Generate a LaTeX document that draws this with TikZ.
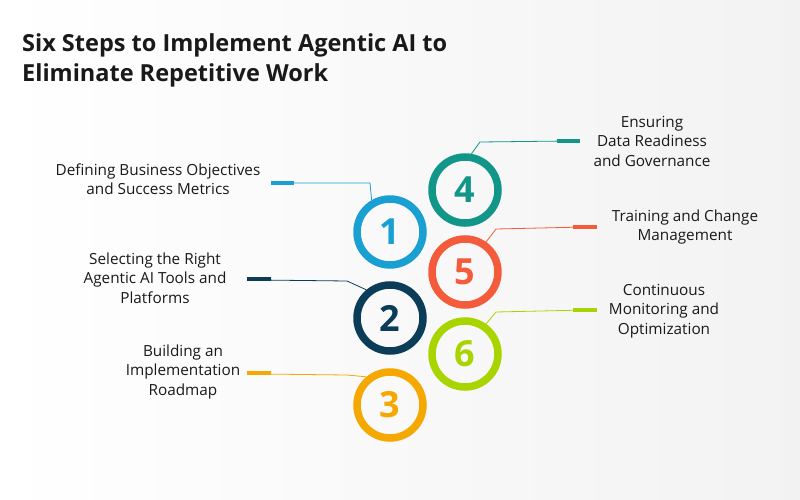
\documentclass[tikz,border=0pt]{standalone}
\usepackage{fontspec}
\setmainfont{Open Sans}
\begin{document}
\begin{tikzpicture}[x=1pt,y=-1pt,
 ring/.style={circle,draw=#1,line width=7.5pt,minimum size=66pt,inner sep=0pt,text=#1,font=\fontsize{36}{36}\selectfont},
 lead/.style={draw=#1,line width=0.8pt},
 bar/.style={draw=#1,line width=3.5pt},
 lbl/.style={align=center,font=\fontsize{15.3}{19.5}\selectfont,text=black!90,inner sep=0pt}]
\definecolor{cA}{HTML}{1A9FD3}\definecolor{cB}{HTML}{0B3D59}\definecolor{cC}{HTML}{F5A800}
\definecolor{cD}{HTML}{12968A}\definecolor{cE}{HTML}{F45B3A}\definecolor{cF}{HTML}{A8D400}
\shade[left color=white,right color=black!5] (0,0) rectangle (800,500);
\useasboundingbox (0,0) rectangle (800,500);
\node[anchor=west,inner sep=0pt,font=\bfseries\fontsize{23.5}{30}\selectfont,align=left,text=black!90] (title) at (22,60) {Six Steps to Implement Agentic AI to\\Eliminate Repetitive Work};
\node[ring=cA] (n1) at (390,232) {\textbf{1}};
\node[ring=cB] (n2) at (390,318) {\textbf{2}};
\node[ring=cC] (n3) at (390,405) {\textbf{3}};
\node[ring=cD] (n4) at (465,190) {\textbf{4}};
\node[ring=cE] (n5) at (465,272) {\textbf{5}};
\node[ring=cF] (n6) at (465,354) {\textbf{6}};
% leaders
\coordinate (b1) at (282,183); \coordinate (b2) at (259,280); \coordinate (b3) at (259,374);
\coordinate (b4) at (568,141); \coordinate (b5) at (585,227); \coordinate (b6) at (585,310);
\draw[lead=cA] (b1) -- (370,183) -- (n1.120);
\draw[lead=cB] (b2) -- (347,281) -- (n2.130);
\draw[lead=cC] (b3) -- (347,375) -- (n3.130);
\draw[lead=cD] (b4) -- (480,142) -- (n4.80);
\draw[lead=cE] (b5) -- (496,229) -- (n5.55);
\draw[lead=cF] (b6) -- (496,312) -- (n6.55);
\draw[bar=cA] (271,183) -- (294,183);
\draw[bar=cB] (247,279) -- (271,279);
\draw[bar=cC] (247,373) -- (271,373);
\draw[bar=cD] (557,141) -- (580,141);
\draw[bar=cE] (573,227) -- (597,227);
\draw[bar=cF] (573,310) -- (597,310);
% labels
\node[lbl] (l1) at (158,179) {Defining Business Objectives\\and Success Metrics};
\node[lbl] (l2) at (155,278) {Selecting the Right\\Agentic AI Tools and\\Platforms};
\node[lbl] (l3) at (183,372) {Building an\\Implementation\\Roadmap};
\node[lbl] (l4) at (652,141) {Ensuring\\Data Readiness\\and Governance};
\node[lbl] (l5) at (685,227) {Training and Change\\Management};
\node[lbl] (l6) at (664,311) {Continuous\\Monitoring and\\Optimization};
\end{tikzpicture}
\end{document}
